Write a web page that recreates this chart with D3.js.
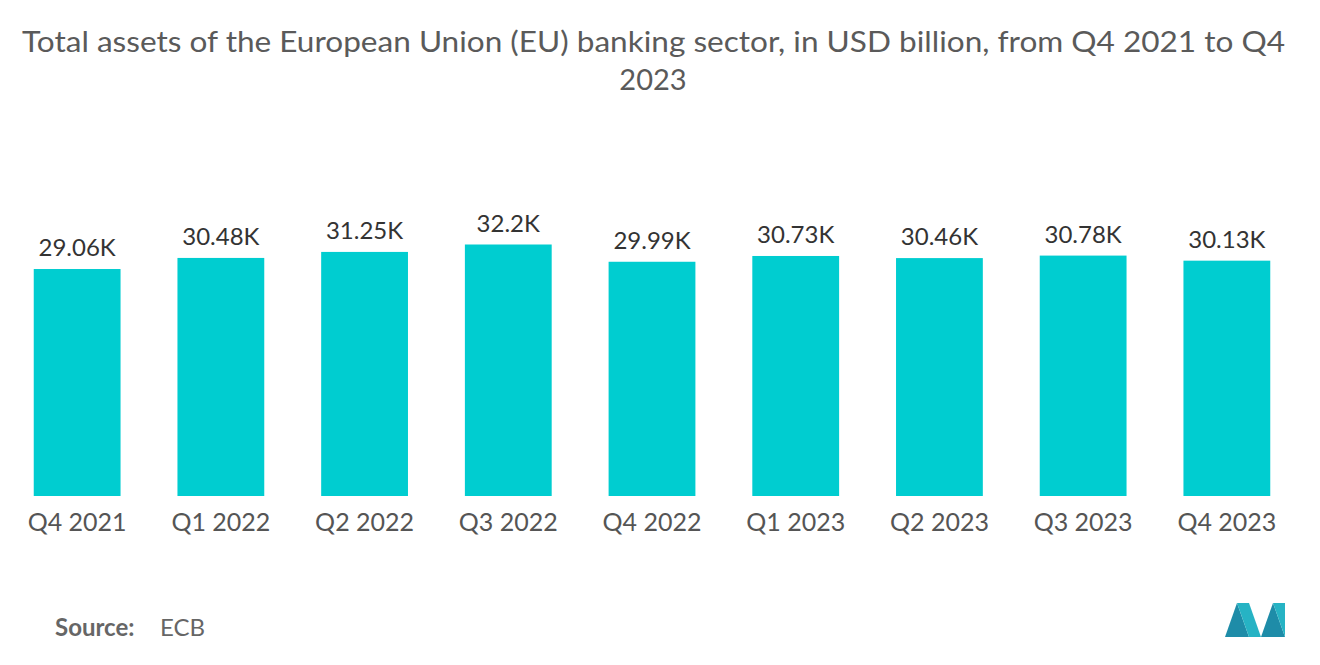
<!DOCTYPE html>
<html><head><meta charset="utf-8">
<script src="https://cdn.jsdelivr.net/npm/d3@7"></script>
<style>body{margin:0;background:#fff}svg{font-family:Lato,"Open Sans",sans-serif}</style>
</head><body><svg id="c" width="1320" height="665"></svg>
<script>
const categories=["Q4 2021","Q1 2022","Q2 2022","Q3 2022","Q4 2022","Q1 2023","Q2 2023","Q3 2023","Q4 2023"];
const values=[29.06,30.48,31.25,32.2,29.99,30.73,30.46,30.78,30.13];
const labels=["29.06K","30.48K","31.25K","32.2K","29.99K","30.73K","30.46K","30.78K","30.13K"];
const svg=d3.select("#c");
const x=d3.scaleBand().domain(categories).range([5,1299]).paddingInner(0.396).paddingOuter(0.2);
const y=d3.scaleLinear().domain([0,32.2]).range([496,244.5]);
svg.append("text").attr("x",22).attr("y",52).attr("textLength",1263).attr("lengthAdjust","spacingAndGlyphs").attr("fill","#5a5a5a").attr("font-size",29).text("Total assets of the European Union (EU) banking sector, in USD billion, from Q4 2021 to Q4");
svg.append("text").attr("x",653).attr("y",90).attr("text-anchor","middle").attr("fill","#5a5a5a").attr("font-size",29).text("2023");
const g=svg.append("g");
g.selectAll("rect").data(values).join("rect").attr("x",(d,i)=>x(categories[i])).attr("width",x.bandwidth()).attr("y",d=>y(d)).attr("height",d=>y(0)-y(d)).attr("fill","#00cdd0");
g.selectAll(".v").data(values).join("text").attr("x",(d,i)=>x(categories[i])+x.bandwidth()/2).attr("y",d=>y(d)-13).attr("text-anchor","middle").attr("font-size",24).attr("fill","#333").text((d,i)=>labels[i]);
const ax=svg.append("g").attr("transform","translate(0,496)").call(d3.axisBottom(x).tickSize(0).tickPadding(17));
ax.select(".domain").remove();
ax.selectAll("text").attr("font-size",25).attr("fill","#555").attr("font-family","Lato,sans-serif");
svg.append("text").attr("x",55).attr("y",636).attr("font-size",24).attr("fill","#666").html('<tspan font-weight="bold">Source:</tspan><tspan x="160">ECB</tspan>');
const lg=svg.append("g").attr("transform","translate(1225,603)");
lg.append("polygon").attr("points","0,34 12,0 24,34").attr("fill","#1e8ca8");
lg.append("polygon").attr("points","12,0 24,0 36,34 24,34").attr("fill","#26b3c4");
lg.append("polygon").attr("points","36,34 48,0 60,34").attr("fill","#1e8ca8");
lg.append("polygon").attr("points","48,0 60,0 60,34").attr("fill","#26b3c4");
</script></body></html>
